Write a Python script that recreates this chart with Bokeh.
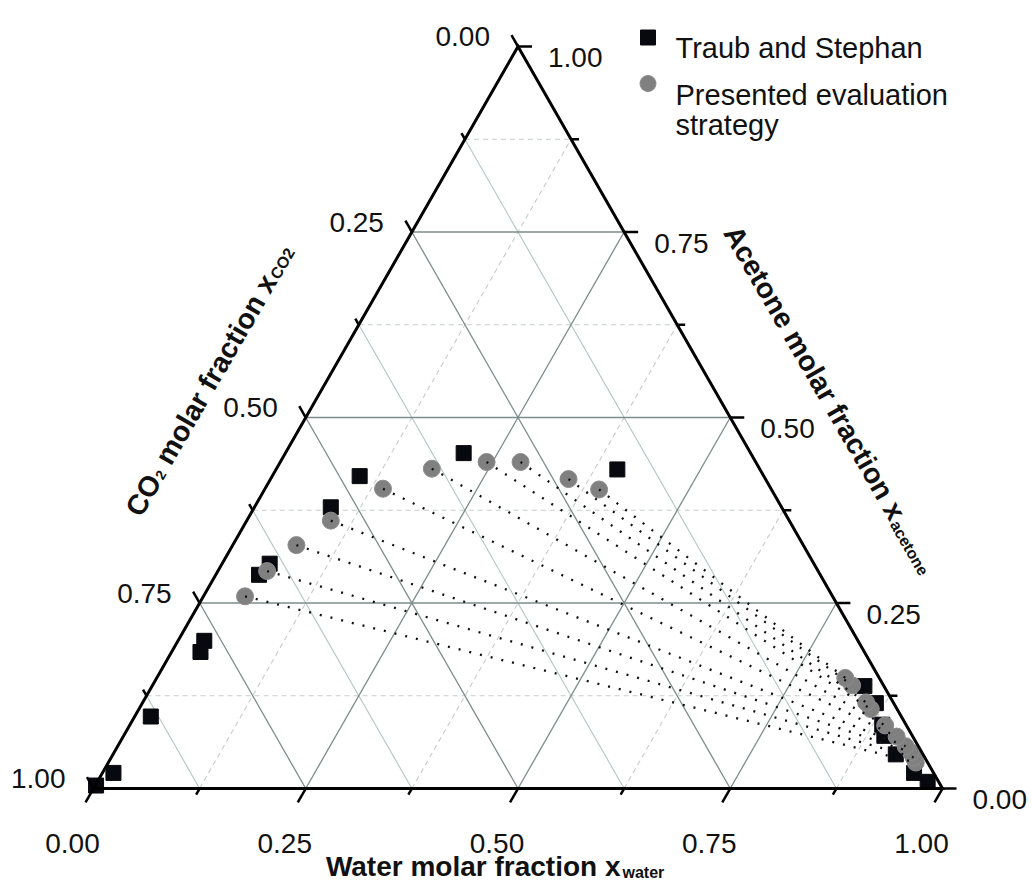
import numpy as np
from bokeh.plotting import figure
from bokeh.models import Range1d
from bokeh.core.properties import value
from bokeh.embed import file_html
from bokeh.resources import INLINE

# ---------------- data (molar fractions) ----------------
tick_values = [0.0, 0.25, 0.5, 0.75, 1.0]
tick_labels = ["0.00", "0.25", "0.50", "0.75", "1.00"]
minor_values = [0.125, 0.375, 0.625, 0.875]

# Traub and Stephan (squares)
ts_water = [0.001, 0.013, 0.019, 0.034, 0.031, 0.051, 0.056, 0.090, 0.103, 0.210, 0.402,
            0.839, 0.864, 0.886, 0.896, 0.922, 0.956, 0.978]
ts_acetone = [0.004, 0.021, 0.097, 0.184, 0.199, 0.288, 0.303, 0.379, 0.421, 0.452, 0.430,
              0.138, 0.115, 0.086, 0.071, 0.046, 0.021, 0.009]

# Presented evaluation strategy (circles): CO2-rich phase and water-rich phase, paired by tie lines
co2_phase_water = [0.049, 0.058, 0.075, 0.099, 0.139, 0.183, 0.243, 0.283, 0.351, 0.394]
co2_phase_acetone = [0.259, 0.293, 0.328, 0.361, 0.404, 0.431, 0.440, 0.440, 0.417, 0.403]
water_phase_water = [0.951, 0.945, 0.938, 0.928, 0.911, 0.890, 0.862, 0.852, 0.824, 0.811]
water_phase_acetone = [0.035, 0.042, 0.049, 0.057, 0.070, 0.085, 0.107, 0.116, 0.139, 0.149]

legend_labels = ["Traub and Stephan", "Presented evaluation", "strategy"]

# ---------------- geometry ----------------
S3 = np.sqrt(3.0)
W, H = 1032, 886
KX = 849.0                 # px per data unit (x)
KY = 742.0 / (S3 / 2)      # px per data unit (y)
X0 = -93 / KX
X1 = X0 + W / KX
Y1 = 788 / KY
Y0 = Y1 - H / KY


def tx(w, a):
    return np.asarray(w, dtype=float) + np.asarray(a, dtype=float) / 2


def ty(a):
    return np.asarray(a, dtype=float) * S3 / 2


def P(px, py):
    return X0 + px / KX, Y1 - py / KY


def dpx(dx, dy):
    return dx / KX, -dy / KY


FONT = value("Liberation Sans")

p = figure(width=W, height=H, x_range=Range1d(X0, X1), y_range=Range1d(Y0, Y1),
           output_backend="svg", toolbar_location=None, x_axis_type=None, y_axis_type=None,
           min_border=0, outline_line_color=None, background_fill_color="white",
           border_fill_color="white")

# ---------------- grid ----------------
all_fracs = sorted(minor_values + tick_values[1:-1])
maj = dict(x0=[], y0=[], x1=[], y1=[])
msol = dict(x0=[], y0=[], x1=[], y1=[])
mdash = dict(x0=[], y0=[], x1=[], y1=[])


def add(d, a, b):
    d["x0"].append(float(a[0])); d["y0"].append(float(a[1]))
    d["x1"].append(float(b[0])); d["y1"].append(float(b[1]))


for f in all_fracs:
    major = f in tick_values
    ac = ((tx(0, f), ty(f)), (tx(1 - f, f), ty(f)))
    wa = ((tx(f, 0), ty(0)), (tx(f, 1 - f), ty(1 - f)))
    co = ((tx(1 - f, 0), ty(0)), (tx(0, 1 - f), ty(1 - f)))
    if major:
        add(maj, *ac); add(maj, *wa); add(maj, *co)
    else:
        add(mdash, *ac); add(mdash, *wa); add(msol, *co)

p.segment(**mdash, line_color="#c3cdcc", line_width=1.1, line_dash="5 4")
p.segment(**msol, line_color="#b3c6bf", line_width=1.1)
p.segment(**maj, line_color="#7d8d8b", line_width=1.3)

# ---------------- data marks ----------------
p.scatter(tx(ts_water, ts_acetone), ty(ts_acetone), marker="square", size=15,
          fill_color="#08080f", line_color="#08080f")
cx = np.concatenate([tx(co2_phase_water, co2_phase_acetone), tx(water_phase_water, water_phase_acetone)])
cy = np.concatenate([ty(co2_phase_acetone), ty(water_phase_acetone)])
p.scatter(cx, cy, marker="circle", size=17, fill_color="#808080", line_color="#8c8c8c", line_width=1)
p.segment(tx(co2_phase_water, co2_phase_acetone), ty(co2_phase_acetone),
          tx(water_phase_water, water_phase_acetone), ty(water_phase_acetone),
          line_color="#111111", line_width=2.3, line_dash="2 9")

# ---------------- axes ----------------
p.patch([0.0, 1.0, 0.5], [0.0, 0.0, S3 / 2], fill_color=None, line_color="black",
        line_width=3, line_join="miter")

tk = dict(x0=[], y0=[], x1=[], y1=[])
for v in sorted(tick_values + minor_values):
    major = v in tick_values
    bx, by = tx(v, 0), ty(0)
    L = 16 if major else 7
    dx, dy = dpx(-0.5 * L, 0.866 * L)
    add(tk, (bx, by), (bx + dx, by + dy))
    lx, ly = tx(0, 1 - v), ty(1 - v)
    L = 13 if major else 7
    dx, dy = dpx(-0.5 * L, -0.866 * L)
    add(tk, (lx, ly), (lx + dx, ly + dy))
    rx, ry = tx(1 - v, v), ty(v)
    L = 14 if major else 8
    dx, dy = dpx(L, 0)
    add(tk, (rx, ry), (rx + dx, ry + dy))
p.segment(**tk, line_color="black", line_width=2.5)

# tick labels
p.text(tx(tick_values, 0), ty(np.zeros(5)), text=tick_labels, text_font=FONT,
       text_font_size="28px", text_align="center", text_baseline="alphabetic",
       x_offset=-21, y_offset=55, text_color="#111111")
co2_vals = np.array(tick_values)
p.text(tx(0, 1 - co2_vals), ty(1 - co2_vals), text=tick_labels, text_font=FONT,
       text_font_size="28px", text_align="right", text_baseline="alphabetic",
       x_offset=-28, y_offset=-10, text_color="#111111")
ac_vals = np.array(tick_values)
p.text(tx(1 - ac_vals, ac_vals), ty(ac_vals), text=tick_labels, text_font=FONT,
       text_font_size="28px", text_align="left", text_baseline="alphabetic",
       x_offset=30, y_offset=11, text_color="#111111")


# ---------------- axis titles ----------------
def put(px, py, txt, size, angle=0.0, align="left", bold=True):
    x, y = P(px, py)
    p.text([x], [y], text=[txt], text_font=FONT, text_font_size=size,
           text_font_style="bold" if bold else "normal", text_align=align,
           text_baseline="alphabetic", angle=angle, text_color="#111111")


put(620, 866, "Water molar fraction x", "28px", align="right")
put(622, 872, "water", "16px")

u = np.array([0.5, -S3 / 2]); dn = np.array([S3 / 2, 0.5])
P0 = np.array([132.0, 513.0])
segs = [("CO", 0.0, 0.0, "28.5px"), ("2", 43.5, 5.0, "14px"),
        ("molar fraction x", 59.9, 0.0, "28.5px"), ("CO2", 275.0, 5.0, "16px")]
for t, s, d, fs in segs:
    q = P0 + u * s + dn * d
    put(q[0], q[1], t, fs, angle=np.pi / 3)

u = np.array([0.5, S3 / 2]); dn = np.array([-S3 / 2, 0.5])
P0 = np.array([731.0, 227.5])
segs = [("Acetone molar fraction x", 0.0, 0.0, "28.5px"), ("acetone", 335.7, 6.0, "16px")]
for t, s, d, fs in segs:
    q = P0 + u * s + dn * d
    put(q[0], q[1], t, fs, angle=-np.pi / 3)

# ---------------- legend ----------------
lx, ly = P(647.5, 37)
p.scatter([lx], [ly], marker="square", size=15, fill_color="#08080f", line_color="#08080f")
lx, ly = P(647.5, 83)
p.scatter([lx], [ly], marker="circle", size=16, fill_color="#808080", line_color="#8c8c8c")
for (yy, t) in zip([47, 94, 124], legend_labels):
    put(675, yy, t, "29px", bold=False)

open("out.html", "w").write(file_html(p, INLINE))
